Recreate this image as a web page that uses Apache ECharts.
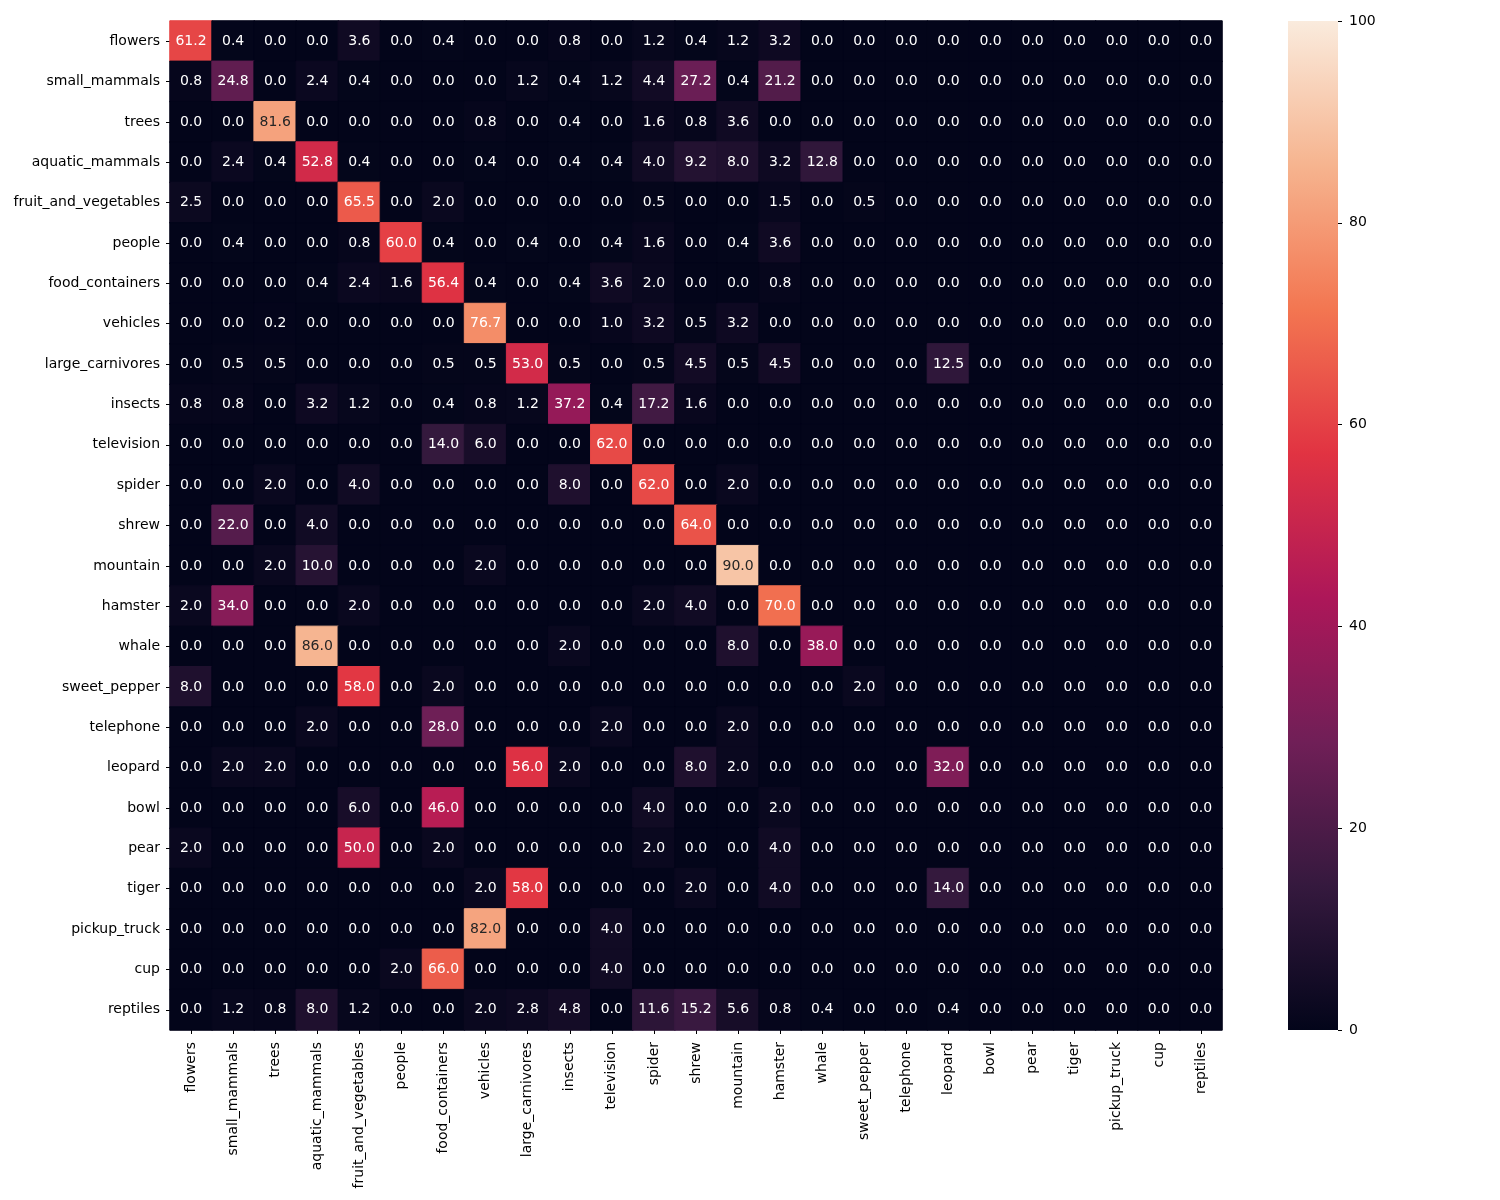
<!DOCTYPE html>
<html>
<head>
    <meta charset="utf-8">
    <title>confusion matrix</title>
    <script src="https://cdn.jsdelivr.net/npm/echarts@6/dist/echarts.min.js"></script>
    <style>
        html, body { margin: 0; padding: 0; background: #fff; }
        #chart1 { width: 1500px; height: 1200px; }
    </style>
</head>
<body>
<div id="chart1"></div>
<script>
    // class names (same order for true rows and predicted columns)
    var classNames = ['flowers', 'small_mammals', 'trees', 'aquatic_mammals', 'fruit_and_vegetables',
        'people', 'food_containers', 'vehicles', 'large_carnivores', 'insects', 'television', 'spider',
        'shrew', 'mountain', 'hamster', 'whale', 'sweet_pepper', 'telephone', 'leopard', 'bowl', 'pear',
        'tiger', 'pickup_truck', 'cup', 'reptiles'];

    // one row per true class, in percent
    var rowFlowers      = [61.2, 0.4, 0, 0, 3.6, 0, 0.4, 0, 0, 0.8, 0, 1.2, 0.4, 1.2, 3.2, 0, 0, 0, 0, 0, 0, 0, 0, 0, 0];
    var rowSmallMammals = [0.8, 24.8, 0, 2.4, 0.4, 0, 0, 0, 1.2, 0.4, 1.2, 4.4, 27.2, 0.4, 21.2, 0, 0, 0, 0, 0, 0, 0, 0, 0, 0];
    var rowTrees        = [0, 0, 81.6, 0, 0, 0, 0, 0.8, 0, 0.4, 0, 1.6, 0.8, 3.6, 0, 0, 0, 0, 0, 0, 0, 0, 0, 0, 0];
    var rowAquatic      = [0, 2.4, 0.4, 52.8, 0.4, 0, 0, 0.4, 0, 0.4, 0.4, 4.0, 9.2, 8.0, 3.2, 12.8, 0, 0, 0, 0, 0, 0, 0, 0, 0];
    var rowFruitVeg     = [2.5, 0, 0, 0, 65.5, 0, 2.0, 0, 0, 0, 0, 0.5, 0, 0, 1.5, 0, 0.5, 0, 0, 0, 0, 0, 0, 0, 0];
    var rowPeople       = [0, 0.4, 0, 0, 0.8, 60.0, 0.4, 0, 0.4, 0, 0.4, 1.6, 0, 0.4, 3.6, 0, 0, 0, 0, 0, 0, 0, 0, 0, 0];
    var rowFoodCont     = [0, 0, 0, 0.4, 2.4, 1.6, 56.4, 0.4, 0, 0.4, 3.6, 2.0, 0, 0, 0.8, 0, 0, 0, 0, 0, 0, 0, 0, 0, 0];
    var rowVehicles     = [0, 0, 0.2, 0, 0, 0, 0, 76.7, 0, 0, 1.0, 3.2, 0.5, 3.2, 0, 0, 0, 0, 0, 0, 0, 0, 0, 0, 0];
    var rowLargeCarn    = [0, 0.5, 0.5, 0, 0, 0, 0.5, 0.5, 53.0, 0.5, 0, 0.5, 4.5, 0.5, 4.5, 0, 0, 0, 12.5, 0, 0, 0, 0, 0, 0];
    var rowInsects      = [0.8, 0.8, 0, 3.2, 1.2, 0, 0.4, 0.8, 1.2, 37.2, 0.4, 17.2, 1.6, 0, 0, 0, 0, 0, 0, 0, 0, 0, 0, 0, 0];
    var rowTelevision   = [0, 0, 0, 0, 0, 0, 14.0, 6.0, 0, 0, 62.0, 0, 0, 0, 0, 0, 0, 0, 0, 0, 0, 0, 0, 0, 0];
    var rowSpider       = [0, 0, 2.0, 0, 4.0, 0, 0, 0, 0, 8.0, 0, 62.0, 0, 2.0, 0, 0, 0, 0, 0, 0, 0, 0, 0, 0, 0];
    var rowShrew        = [0, 22.0, 0, 4.0, 0, 0, 0, 0, 0, 0, 0, 0, 64.0, 0, 0, 0, 0, 0, 0, 0, 0, 0, 0, 0, 0];
    var rowMountain     = [0, 0, 2.0, 10.0, 0, 0, 0, 2.0, 0, 0, 0, 0, 0, 90.0, 0, 0, 0, 0, 0, 0, 0, 0, 0, 0, 0];
    var rowHamster      = [2.0, 34.0, 0, 0, 2.0, 0, 0, 0, 0, 0, 0, 2.0, 4.0, 0, 70.0, 0, 0, 0, 0, 0, 0, 0, 0, 0, 0];
    var rowWhale        = [0, 0, 0, 86.0, 0, 0, 0, 0, 0, 2.0, 0, 0, 0, 8.0, 0, 38.0, 0, 0, 0, 0, 0, 0, 0, 0, 0];
    var rowSweetPepper  = [8.0, 0, 0, 0, 58.0, 0, 2.0, 0, 0, 0, 0, 0, 0, 0, 0, 0, 2.0, 0, 0, 0, 0, 0, 0, 0, 0];
    var rowTelephone    = [0, 0, 0, 2.0, 0, 0, 28.0, 0, 0, 0, 2.0, 0, 0, 2.0, 0, 0, 0, 0, 0, 0, 0, 0, 0, 0, 0];
    var rowLeopard      = [0, 2.0, 2.0, 0, 0, 0, 0, 0, 56.0, 2.0, 0, 0, 8.0, 2.0, 0, 0, 0, 0, 32.0, 0, 0, 0, 0, 0, 0];
    var rowBowl         = [0, 0, 0, 0, 6.0, 0, 46.0, 0, 0, 0, 0, 4.0, 0, 0, 2.0, 0, 0, 0, 0, 0, 0, 0, 0, 0, 0];
    var rowPear         = [2.0, 0, 0, 0, 50.0, 0, 2.0, 0, 0, 0, 0, 2.0, 0, 0, 4.0, 0, 0, 0, 0, 0, 0, 0, 0, 0, 0];
    var rowTiger        = [0, 0, 0, 0, 0, 0, 0, 2.0, 58.0, 0, 0, 0, 2.0, 0, 4.0, 0, 0, 0, 14.0, 0, 0, 0, 0, 0, 0];
    var rowPickupTruck  = [0, 0, 0, 0, 0, 0, 0, 82.0, 0, 0, 4.0, 0, 0, 0, 0, 0, 0, 0, 0, 0, 0, 0, 0, 0, 0];
    var rowCup          = [0, 0, 0, 0, 0, 2.0, 66.0, 0, 0, 0, 4.0, 0, 0, 0, 0, 0, 0, 0, 0, 0, 0, 0, 0, 0, 0];
    var rowReptiles     = [0, 1.2, 0.8, 8.0, 1.2, 0, 0, 2.0, 2.8, 4.8, 0, 11.6, 15.2, 5.6, 0.8, 0.4, 0, 0, 0.4, 0, 0, 0, 0, 0, 0];

    var matrixRows = [rowFlowers, rowSmallMammals, rowTrees, rowAquatic, rowFruitVeg, rowPeople, rowFoodCont,
        rowVehicles, rowLargeCarn, rowInsects, rowTelevision, rowSpider, rowShrew, rowMountain, rowHamster,
        rowWhale, rowSweetPepper, rowTelephone, rowLeopard, rowBowl, rowPear, rowTiger, rowPickupTruck,
        rowCup, rowReptiles];

    // colour bar ticks (also the colour scale range)
    var barTicks = [0, 20, 40, 60, 80, 100];

    // seaborn "rocket" colormap, evenly spaced stops
    var rocket = ['#03051a', '#35193e', '#701f57', '#ad1759', '#e13342', '#f37651', '#f6b48f', '#faebdd'];

    var vMin = barTicks[0], vMax = barTicks[barTicks.length - 1];
    function cellColor(v) {
        return echarts.color.lerp((v - vMin) / (vMax - vMin), rocket);
    }

    var cells = [];
    matrixRows.forEach(function (row, r) {
        row.forEach(function (v, c) {
            var col = cellColor(v);
            var item = {
                value: [c, r, v],
                itemStyle: {color: col, borderColor: col, borderWidth: 1}
            };
            // light cells get dark annotation text
            if (v > 79) item.label = {color: '#262626'};
            cells.push(item);
        });
    });

    // vertical gradient for the colour bar (bottom = min, top = max)
    var barStops = rocket.map(function (c, i) {
        return {offset: 1 - i / (rocket.length - 1), color: c};
    });

    var font = 'DejaVu Sans';
    var myChart1 = echarts.init(document.getElementById('chart1'));
    myChart1.setOption({
        animation: false,
        textStyle: {fontFamily: font},
        grid: [
            {left: 170, top: 21, width: 1052, height: 1009},
            {left: 1288, top: 21, width: 50, height: 1009}
        ],
        xAxis: [{
            gridIndex: 0,
            type: 'category',
            data: classNames,
            axisLine: {show: false},
            axisTick: {show: true, alignWithLabel: true, length: 4, lineStyle: {color: '#000'}},
            axisLabel: {rotate: 90, color: '#000', fontSize: 14, fontFamily: font, margin: 12, interval: 0},
            splitLine: {show: false}
        }, {
            gridIndex: 1,
            type: 'category',
            data: ['bar'],
            show: false
        }],
        yAxis: [{
            gridIndex: 0,
            type: 'category',
            data: classNames,
            inverse: true,
            axisLine: {show: false},
            axisTick: {show: true, alignWithLabel: true, length: 4, lineStyle: {color: '#000'}},
            axisLabel: {color: '#000', fontSize: 14, fontFamily: font, margin: 10, interval: 0},
            splitLine: {show: false}
        }, {
            gridIndex: 1,
            type: 'value',
            position: 'right',
            min: vMin,
            max: vMax,
            interval: barTicks[1] - barTicks[0],
            z: 5,
            axisLine: {show: false},
            axisTick: {show: true, length: 4, lineStyle: {color: '#000', width: 1}},
            axisLabel: {color: '#000', fontSize: 14, fontFamily: font, margin: 11},
            splitLine: {show: false}
        }],
        series: [{
            type: 'heatmap',
            xAxisIndex: 0,
            yAxisIndex: 0,
            data: cells,
            label: {
                show: true,
                color: '#fff',
                fontSize: 14,
                fontFamily: font,
                formatter: function (p) { return p.value[2].toFixed(1); }
            },
            emphasis: {disabled: true}
        }, {
            type: 'bar',
            xAxisIndex: 1,
            yAxisIndex: 1,
            data: [vMax],
            barWidth: '100%',
            silent: true,
            itemStyle: {
                color: new echarts.graphic.LinearGradient(0, 0, 0, 1, barStops)
            }
        }]
    });
</script>
</body>
</html>
